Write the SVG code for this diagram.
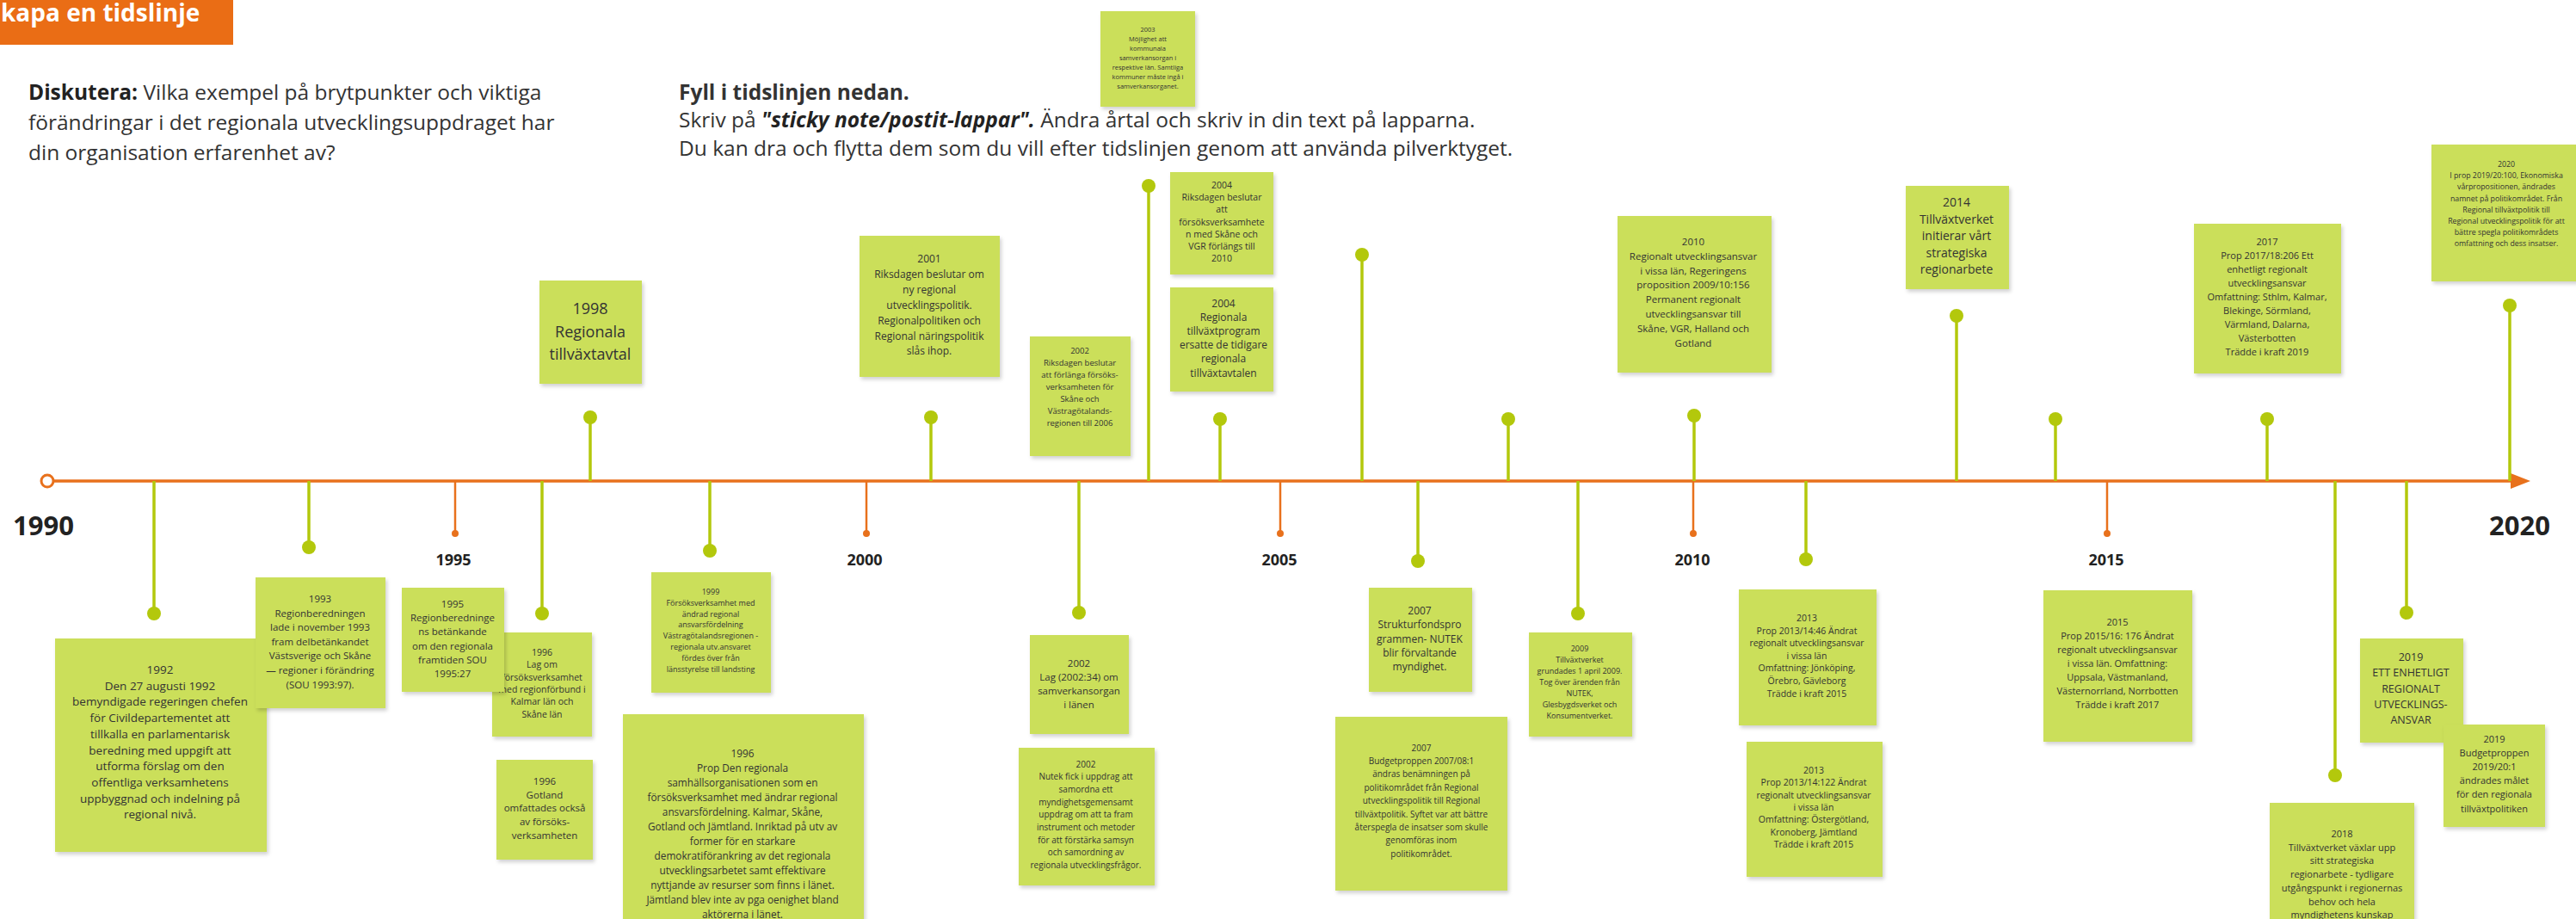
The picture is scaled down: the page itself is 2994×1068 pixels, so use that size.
<svg xmlns="http://www.w3.org/2000/svg" width="2994" height="1068" viewBox="0 0 2994 1068">
<defs>
<style>
.bg{fill:#ffffff}
.note rect{fill:#CBDF5A;filter:url(#sh)}
.note text{font-family:"Open Sans","Liberation Sans",sans-serif;fill:#333;text-anchor:middle}
.stem{stroke:#B3C80C;stroke-width:3.5}
.dot{fill:#B3C80C}
.tl{stroke:#E8711C;stroke-width:3.5;fill:none}
.tick{stroke:#E8711C;stroke-width:2.5}
.tdot{fill:#E8711C}
.yr{font-family:"Open Sans","Liberation Sans",sans-serif;font-weight:bold;fill:#222}
.body{font-family:"Open Sans","Liberation Sans",sans-serif;font-size:24.5px;fill:#333}
</style>
<filter id="sh" x="-10%" y="-10%" width="130%" height="130%">
<feDropShadow dx="2" dy="3" stdDeviation="2" flood-color="#000" flood-opacity="0.18"/>
</filter>
</defs>
<rect class="bg" x="0" y="0" width="2994" height="1068"/>

<g id="title">
<rect x="0" y="0" width="271" height="52" fill="#EA6D15"/>
<text x="1" y="25" font-family="Open Sans, Liberation Sans, sans-serif" font-weight="bold" font-size="28" fill="#fff">kapa en tidslinje</text>
</g>

<g id="instructions">
<text class="body" x="33" y="116"><tspan font-weight="bold" fill="#222">Diskutera:</tspan> Vilka exempel på brytpunkter och viktiga</text>
<text class="body" x="33" y="151">förändringar i det regionala utvecklingsuppdraget har</text>
<text class="body" x="33" y="186">din organisation erfarenhet av?</text>
<text class="body" x="789" y="116" font-weight="bold" fill="#222">Fyll i tidslinjen nedan.</text>
<text class="body" x="789" y="148">Skriv på <tspan font-weight="bold" font-style="italic" fill="#222">"sticky note/postit-lappar".</tspan> Ändra årtal och skriv in din text på lapparna.</text>
<text class="body" x="789" y="181">Du kan dra och flytta dem som du vill efter tidslinjen genom att använda pilverktyget.</text>
</g>

<g id="timeline">
<line class="tl" x1="62" y1="559" x2="2922" y2="559"/>
<circle cx="55" cy="559" r="7" fill="#fff" stroke="#E8711C" stroke-width="3"/>
<polygon points="2918,550 2941,559 2918,568" fill="#E8711C"/>
<line class="tick" x1="529" y1="559" x2="529" y2="618"/><circle class="tdot" cx="529" cy="620" r="4"/>
<line class="tick" x1="1007" y1="559" x2="1007" y2="618"/><circle class="tdot" cx="1007" cy="620" r="4"/>
<line class="tick" x1="1488" y1="559" x2="1488" y2="618"/><circle class="tdot" cx="1488" cy="620" r="4"/>
<line class="tick" x1="1968" y1="559" x2="1968" y2="618"/><circle class="tdot" cx="1968" cy="620" r="4"/>
<line class="tick" x1="2449" y1="559" x2="2449" y2="618"/><circle class="tdot" cx="2449" cy="620" r="4"/>
<text class="yr" x="15" y="622" font-size="31">1990</text>
<text class="yr" x="2893" y="622" font-size="31">2020</text>
<text class="yr" x="527" y="657" font-size="18" text-anchor="middle">1995</text>
<text class="yr" x="1005" y="657" font-size="18" text-anchor="middle">2000</text>
<text class="yr" x="1487" y="657" font-size="18" text-anchor="middle">2005</text>
<text class="yr" x="1967" y="657" font-size="18" text-anchor="middle">2010</text>
<text class="yr" x="2448" y="657" font-size="18" text-anchor="middle">2015</text>
</g>

<g id="connectors">
<line class="stem" x1="179" y1="559" x2="179" y2="713"/><circle class="dot" cx="179" cy="713" r="8"/>
<line class="stem" x1="359" y1="559" x2="359" y2="636"/><circle class="dot" cx="359" cy="636" r="8"/>
<line class="stem" x1="630" y1="559" x2="630" y2="713"/><circle class="dot" cx="630" cy="713" r="8"/>
<line class="stem" x1="825" y1="559" x2="825" y2="640"/><circle class="dot" cx="825" cy="640" r="8"/>
<line class="stem" x1="1254" y1="559" x2="1254" y2="712"/><circle class="dot" cx="1254" cy="712" r="8"/>
<line class="stem" x1="1648" y1="559" x2="1648" y2="652"/><circle class="dot" cx="1648" cy="652" r="8"/>
<line class="stem" x1="1834" y1="559" x2="1834" y2="713"/><circle class="dot" cx="1834" cy="713" r="8"/>
<line class="stem" x1="2099" y1="559" x2="2099" y2="650"/><circle class="dot" cx="2099" cy="650" r="8"/>
<line class="stem" x1="2714" y1="559" x2="2714" y2="901"/><circle class="dot" cx="2714" cy="901" r="8"/>
<line class="stem" x1="2797" y1="559" x2="2797" y2="712"/><circle class="dot" cx="2797" cy="712" r="8"/>
<line class="stem" x1="686" y1="485" x2="686" y2="559"/><circle class="dot" cx="686" cy="485" r="8"/>
<line class="stem" x1="1082" y1="485" x2="1082" y2="559"/><circle class="dot" cx="1082" cy="485" r="8"/>
<line class="stem" x1="1335" y1="216" x2="1335" y2="559"/><circle class="dot" cx="1335" cy="216" r="8"/>
<line class="stem" x1="1418" y1="487" x2="1418" y2="559"/><circle class="dot" cx="1418" cy="487" r="8"/>
<line class="stem" x1="1583" y1="296" x2="1583" y2="559"/><circle class="dot" cx="1583" cy="296" r="8"/>
<line class="stem" x1="1753" y1="487" x2="1753" y2="559"/><circle class="dot" cx="1753" cy="487" r="8"/>
<line class="stem" x1="1969" y1="483" x2="1969" y2="559"/><circle class="dot" cx="1969" cy="483" r="8"/>
<line class="stem" x1="2274" y1="367" x2="2274" y2="559"/><circle class="dot" cx="2274" cy="367" r="8"/>
<line class="stem" x1="2389" y1="487" x2="2389" y2="559"/><circle class="dot" cx="2389" cy="487" r="8"/>
<line class="stem" x1="2635" y1="487" x2="2635" y2="559"/><circle class="dot" cx="2635" cy="487" r="8"/>
<line class="stem" x1="2917" y1="355" x2="2917" y2="559"/><circle class="dot" cx="2917" cy="355" r="8"/>
</g>

<g id="n1992" class="note"><rect x="64" y="742" width="246" height="248"/>
<text x="186" y="783" font-size="13.5"><tspan x="186">1992</tspan><tspan x="186" dy="18.7">Den 27 augusti 1992</tspan><tspan x="186" dy="18.7">bemyndigade regeringen chefen</tspan><tspan x="186" dy="18.7">för Civildepartementet att</tspan><tspan x="186" dy="18.7">tillkalla en parlamentarisk</tspan><tspan x="186" dy="18.7">beredning med uppgift att</tspan><tspan x="186" dy="18.7">utforma förslag om den</tspan><tspan x="186" dy="18.7">offentliga verksamhetens</tspan><tspan x="186" dy="18.7">uppbyggnad och indelning på</tspan><tspan x="186" dy="18.7">regional nivå.</tspan></text></g>

<g id="n1993" class="note"><rect x="297" y="671" width="151" height="152"/>
<text x="372" y="700" font-size="11.5"><tspan x="372">1993</tspan><tspan x="372" dy="16.6">Regionberedningen</tspan><tspan x="372" dy="16.6">lade i november 1993</tspan><tspan x="372" dy="16.6">fram delbetänkandet</tspan><tspan x="372" dy="16.6">Västsverige och Skåne</tspan><tspan x="372" dy="16.6">— regioner i förändring</tspan><tspan x="372" dy="16.6">(SOU 1993:97).</tspan></text></g>

<g id="n1996lag" class="note"><rect x="572" y="735" width="116" height="121"/>
<text x="630" y="762" font-size="10.5"><tspan x="630">1996</tspan><tspan x="630" dy="14.3">Lag om</tspan><tspan x="630" dy="14.3">försöksverksamhet</tspan><tspan x="630" dy="14.3">med regionförbund i</tspan><tspan x="630" dy="14.3">Kalmar län och</tspan><tspan x="630" dy="14.3">Skåne län</tspan></text></g>

<g id="n1995" class="note"><rect x="467" y="683" width="119" height="121"/>
<text x="526" y="706" font-size="11.5"><tspan x="526">1995</tspan><tspan x="526" dy="16.2">Regionberedninge</tspan><tspan x="526" dy="16.2">ns betänkande</tspan><tspan x="526" dy="16.2">om den regionala</tspan><tspan x="526" dy="16.2">framtiden SOU</tspan><tspan x="526" dy="16.2">1995:27</tspan></text></g>

<g id="n1996got" class="note"><rect x="577" y="883" width="112" height="116"/>
<text x="633" y="912" font-size="11.5"><tspan x="633">1996</tspan><tspan x="633" dy="15.7">Gotland</tspan><tspan x="633" dy="15.7">omfattades också</tspan><tspan x="633" dy="15.7">av försöks-</tspan><tspan x="633" dy="15.7">verksamheten</tspan></text></g>

<g id="n1999" class="note"><rect x="757" y="665" width="139" height="140"/>
<text x="826" y="691" font-size="9"><tspan x="826">1999</tspan><tspan x="826" dy="12.8">Försöksverksamhet med</tspan><tspan x="826" dy="12.8">ändrad regional</tspan><tspan x="826" dy="12.8">ansvarsfördelning</tspan><tspan x="826" dy="12.8">Västragötalandsregionen -</tspan><tspan x="826" dy="12.8">regionala utv.ansvaret</tspan><tspan x="826" dy="12.8">fördes över  från</tspan><tspan x="826" dy="12.8">länsstyrelse till landsting</tspan></text></g>

<g id="n1996prop" class="note"><rect x="724" y="830" width="280" height="250"/>
<text x="863" y="880" font-size="11.8"><tspan x="863">1996</tspan><tspan x="863" dy="17">Prop Den regionala</tspan><tspan x="863" dy="17">samhällsorganisationen som en</tspan><tspan x="863" dy="17">försöksverksamhet med ändrar regional</tspan><tspan x="863" dy="17">ansvarsfördelning. Kalmar, Skåne,</tspan><tspan x="863" dy="17">Gotland och Jämtland. Inriktad på utv av</tspan><tspan x="863" dy="17">former för en starkare</tspan><tspan x="863" dy="17">demokratiförankring av det regionala</tspan><tspan x="863" dy="17">utvecklingsarbetet samt effektivare</tspan><tspan x="863" dy="17">nyttjande av resurser som finns i länet.</tspan><tspan x="863" dy="17">Jämtland blev inte av pga oenighet bland</tspan><tspan x="863" dy="17">aktörerna i länet.</tspan></text></g>

<g id="n1998" class="note"><rect x="627" y="326" width="119" height="120"/>
<text x="686" y="365" font-size="18"><tspan x="686">1998</tspan><tspan x="686" dy="26.5">Regionala</tspan><tspan x="686" dy="26.5">tillväxtavtal</tspan></text></g>

<g id="n2001" class="note"><rect x="999" y="274" width="163" height="164"/>
<text x="1080" y="305" font-size="12"><tspan x="1080">2001</tspan><tspan x="1080" dy="17.9">Riksdagen beslutar om</tspan><tspan x="1080" dy="17.9">ny regional</tspan><tspan x="1080" dy="17.9">utvecklingspolitik.</tspan><tspan x="1080" dy="17.9">Regionalpolitiken och</tspan><tspan x="1080" dy="17.9">Regional näringspolitik</tspan><tspan x="1080" dy="17.9">slås ihop.</tspan></text></g>

<g id="n2002r" class="note"><rect x="1197" y="391" width="117" height="139"/>
<text x="1255" y="411" font-size="9.5"><tspan x="1255">2002</tspan><tspan x="1255" dy="14">Riksdagen beslutar</tspan><tspan x="1255" dy="14">att förlänga försöks-</tspan><tspan x="1255" dy="14">verksamheten för</tspan><tspan x="1255" dy="14">Skåne och</tspan><tspan x="1255" dy="14">Västragötalands-</tspan><tspan x="1255" dy="14">regionen till 2006</tspan></text></g>

<g id="n2003" class="note"><rect x="1279" y="13" width="110" height="111"/>
<text x="1334" y="36.5" font-size="7.5"><tspan x="1334">2003</tspan><tspan x="1334" dy="11">Möjlighet att</tspan><tspan x="1334" dy="11">kommunala</tspan><tspan x="1334" dy="11">samverkansorgan i</tspan><tspan x="1334" dy="11">respektive län. Samtliga</tspan><tspan x="1334" dy="11">kommuner måste ingå i</tspan><tspan x="1334" dy="11">samverkansorganet.</tspan></text></g>

<g id="n2004a" class="note"><rect x="1360" y="200" width="120" height="119"/>
<text x="1420" y="219" font-size="10.5"><tspan x="1420">2004</tspan><tspan x="1420" dy="14.2">Riksdagen beslutar</tspan><tspan x="1420" dy="14.2">att</tspan><tspan x="1420" dy="14.2">försöksverksamhete</tspan><tspan x="1420" dy="14.2">n med Skåne och</tspan><tspan x="1420" dy="14.2">VGR förlängs till</tspan><tspan x="1420" dy="14.2">2010</tspan></text></g>

<g id="n2004b" class="note"><rect x="1360" y="334" width="120" height="121"/>
<text x="1422" y="357" font-size="12"><tspan x="1422">2004</tspan><tspan x="1422" dy="16.1">Regionala</tspan><tspan x="1422" dy="16.1">tillväxtprogram</tspan><tspan x="1422" dy="16.1">ersatte de tidigare</tspan><tspan x="1422" dy="16.1">regionala</tspan><tspan x="1422" dy="16.1">tillväxtavtalen</tspan></text></g>

<g id="n2002lag" class="note"><rect x="1197" y="738" width="115" height="115"/>
<text x="1254" y="775" font-size="11.5"><tspan x="1254">2002</tspan><tspan x="1254" dy="15.9">Lag (2002:34) om</tspan><tspan x="1254" dy="15.9">samverkansorgan</tspan><tspan x="1254" dy="15.9">i länen</tspan></text></g>

<g id="n2002nutek" class="note"><rect x="1184" y="869" width="158" height="160"/>
<text x="1262" y="891.5" font-size="10"><tspan x="1262">2002</tspan><tspan x="1262" dy="14.7">Nutek fick i uppdrag att</tspan><tspan x="1262" dy="14.7">samordna ett</tspan><tspan x="1262" dy="14.7">myndighetsgemensamt</tspan><tspan x="1262" dy="14.7">uppdrag om att ta fram</tspan><tspan x="1262" dy="14.7">instrument och metoder</tspan><tspan x="1262" dy="14.7">för att förstärka samsyn</tspan><tspan x="1262" dy="14.7">och samordning av</tspan><tspan x="1262" dy="14.7">regionala utvecklingsfrågor.</tspan></text></g>

<g id="n2007s" class="note"><rect x="1591" y="683" width="120" height="121"/>
<text x="1650" y="714" font-size="12"><tspan x="1650">2007</tspan><tspan x="1650" dy="16.25">Strukturfondspro</tspan><tspan x="1650" dy="16.25">grammen- NUTEK</tspan><tspan x="1650" dy="16.25">blir förvaltande</tspan><tspan x="1650" dy="16.25">myndighet.</tspan></text></g>

<g id="n2007b" class="note"><rect x="1552" y="833" width="200" height="202"/>
<text x="1652" y="872.5" font-size="10"><tspan x="1652">2007</tspan><tspan x="1652" dy="15.4">Budgetproppen 2007/08:1</tspan><tspan x="1652" dy="15.4">ändras benämningen på</tspan><tspan x="1652" dy="15.4">politikområdet från Regional</tspan><tspan x="1652" dy="15.4">utvecklingspolitik till Regional</tspan><tspan x="1652" dy="15.4">tillväxtpolitik. Syftet var att bättre</tspan><tspan x="1652" dy="15.4">återspegla de insatser som skulle</tspan><tspan x="1652" dy="15.4">genomföras inom</tspan><tspan x="1652" dy="15.4">politikområdet.</tspan></text></g>

<g id="n2009" class="note"><rect x="1777" y="735" width="120" height="121"/>
<text x="1836" y="757" font-size="9"><tspan x="1836">2009</tspan><tspan x="1836" dy="13">Tillväxtverket</tspan><tspan x="1836" dy="13">grundades 1 april 2009.</tspan><tspan x="1836" dy="13">Tog över ärenden från</tspan><tspan x="1836" dy="13">NUTEK,</tspan><tspan x="1836" dy="13">Glesbygdsverket och</tspan><tspan x="1836" dy="13">Konsumentverket.</tspan></text></g>

<g id="n2010" class="note"><rect x="1880" y="251" width="179" height="182"/>
<text x="1968" y="285" font-size="11.5"><tspan x="1968">2010</tspan><tspan x="1968" dy="16.8">Regionalt utvecklingsansvar</tspan><tspan x="1968" dy="16.8">i vissa län, Regeringens</tspan><tspan x="1968" dy="16.8">proposition 2009/10:156</tspan><tspan x="1968" dy="16.8">Permanent regionalt</tspan><tspan x="1968" dy="16.8">utvecklingsansvar till</tspan><tspan x="1968" dy="16.8">Skåne, VGR, Halland och</tspan><tspan x="1968" dy="16.8">Gotland</tspan></text></g>

<g id="n2013a" class="note"><rect x="2021" y="685" width="160" height="158"/>
<text x="2100" y="722" font-size="10.5"><tspan x="2100">2013</tspan><tspan x="2100" dy="14.6">Prop 2013/14:46  Ändrat</tspan><tspan x="2100" dy="14.6">regionalt utvecklingsansvar</tspan><tspan x="2100" dy="14.6">i vissa län</tspan><tspan x="2100" dy="14.6">Omfattning: Jönköping,</tspan><tspan x="2100" dy="14.6">Örebro, Gävleborg</tspan><tspan x="2100" dy="14.6">Trädde i kraft 2015</tspan></text></g>

<g id="n2013b" class="note"><rect x="2030" y="862" width="158" height="157"/>
<text x="2108" y="899" font-size="10.5"><tspan x="2108">2013</tspan><tspan x="2108" dy="14.3">Prop 2013/14:122 Ändrat</tspan><tspan x="2108" dy="14.3">regionalt utvecklingsansvar</tspan><tspan x="2108" dy="14.3">i vissa län</tspan><tspan x="2108" dy="14.3">Omfattning: Östergötland,</tspan><tspan x="2108" dy="14.3">Kronoberg, Jämtland</tspan><tspan x="2108" dy="14.3">Trädde i kraft 2015</tspan></text></g>

<g id="n2014" class="note"><rect x="2215" y="216" width="120" height="120"/>
<text x="2274" y="240" font-size="14"><tspan x="2274">2014</tspan><tspan x="2274" dy="19.6">Tillväxtverket</tspan><tspan x="2274" dy="19.6">initierar vårt</tspan><tspan x="2274" dy="19.6">strategiska</tspan><tspan x="2274" dy="19.6">regionarbete</tspan></text></g>

<g id="n2015" class="note"><rect x="2375" y="686" width="173" height="176"/>
<text x="2461" y="727" font-size="11"><tspan x="2461">2015</tspan><tspan x="2461" dy="16">Prop 2015/16: 176 Ändrat</tspan><tspan x="2461" dy="16">regionalt utvecklingsansvar</tspan><tspan x="2461" dy="16">i vissa län. Omfattning:</tspan><tspan x="2461" dy="16">Uppsala, Västmanland,</tspan><tspan x="2461" dy="16">Västernorrland, Norrbotten</tspan><tspan x="2461" dy="16">Trädde i kraft 2017</tspan></text></g>

<g id="n2017" class="note"><rect x="2550" y="260" width="171" height="174"/>
<text x="2635" y="285" font-size="11"><tspan x="2635">2017</tspan><tspan x="2635" dy="16">Prop 2017/18:206 Ett</tspan><tspan x="2635" dy="16">enhetligt regionalt</tspan><tspan x="2635" dy="16">utvecklingsansvar</tspan><tspan x="2635" dy="16">Omfattning: Sthlm, Kalmar,</tspan><tspan x="2635" dy="16">Blekinge, Sörmland,</tspan><tspan x="2635" dy="16">Värmland, Dalarna,</tspan><tspan x="2635" dy="16">Västerbotten</tspan><tspan x="2635" dy="16">Trädde i kraft 2019</tspan></text></g>

<g id="n2018" class="note"><rect x="2638" y="933" width="168" height="150"/>
<text x="2722" y="973" font-size="11"><tspan x="2722">2018</tspan><tspan x="2722" dy="15.7">Tillväxtverket växlar upp</tspan><tspan x="2722" dy="15.7">sitt strategiska</tspan><tspan x="2722" dy="15.7">regionarbete - tydligare</tspan><tspan x="2722" dy="15.7">utgångspunkt i regionernas</tspan><tspan x="2722" dy="15.7">behov och hela</tspan><tspan x="2722" dy="15.7">myndighetens kunskap</tspan></text></g>

<g id="n2019ett" class="note"><rect x="2743" y="742" width="120" height="121"/>
<text x="2802" y="768" font-size="12.5"><tspan x="2802">2019</tspan><tspan x="2802" dy="18.3">ETT ENHETLIGT</tspan><tspan x="2802" dy="18.3">REGIONALT</tspan><tspan x="2802" dy="18.3">UTVECKLINGS-</tspan><tspan x="2802" dy="18.3">ANSVAR</tspan></text></g>

<g id="n2019b" class="note"><rect x="2840" y="842" width="118" height="119"/>
<text x="2899" y="863" font-size="11"><tspan x="2899">2019</tspan><tspan x="2899" dy="16.1">Budgetproppen</tspan><tspan x="2899" dy="16.1">2019/20:1</tspan><tspan x="2899" dy="16.1">ändrades målet</tspan><tspan x="2899" dy="16.1">för den regionala</tspan><tspan x="2899" dy="16.1">tillväxtpolitiken</tspan></text></g>

<g id="n2020" class="note"><rect x="2826" y="168" width="180" height="159"/>
<text x="2913" y="194" font-size="8.8"><tspan x="2913">2020</tspan><tspan x="2913" dy="13.2">I prop 2019/20:100, Ekonomiska</tspan><tspan x="2913" dy="13.2">vårpropositionen,  ändrades</tspan><tspan x="2913" dy="13.2">namnet på politikområdet. Från</tspan><tspan x="2913" dy="13.2">Regional tillväxtpolitik till</tspan><tspan x="2913" dy="13.2">Regional utvecklingspolitik för att</tspan><tspan x="2913" dy="13.2">bättre spegla politikområdets</tspan><tspan x="2913" dy="13.2">omfattning och dess insatser.</tspan></text></g>
</svg>
